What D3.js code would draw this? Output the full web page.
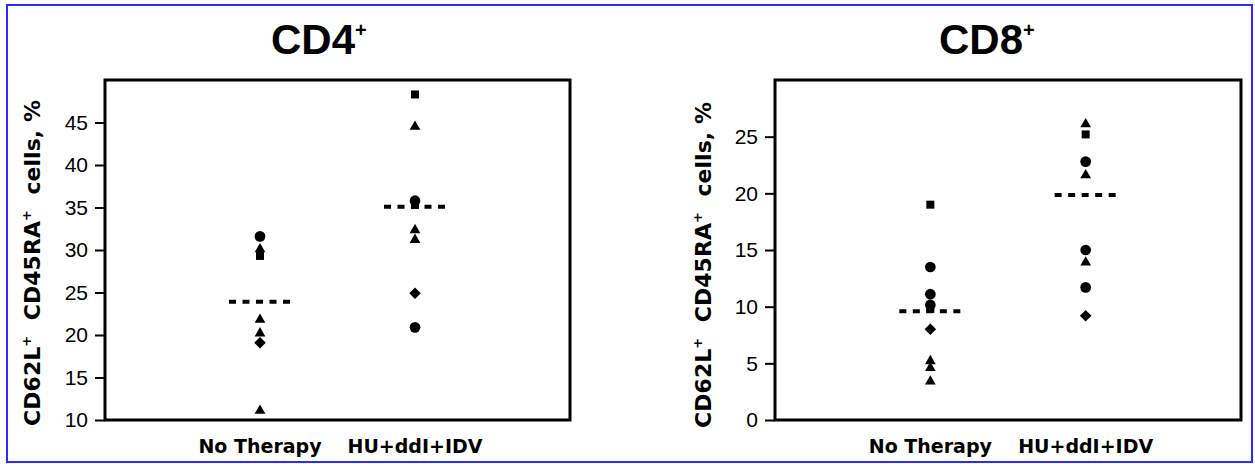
<!DOCTYPE html>
<html>
<head>
<meta charset="utf-8">
<script src="https://cdn.jsdelivr.net/npm/d3@7"></script>
<style>
  body { margin: 0; background: #fff; }
  svg { display: block; }
</style>
</head>
<body>
<svg id="chart" width="1255" height="464"></svg>
<script>
// categories
const groups = ["No Therapy", "HU+ddI+IDV"];

// CD4+ panel values (%), with the marker shape of each patient
const cd4NoTherapy = [31.6, 30.1, 29.3, 21.8, 20.2, 19.1, 11.1];
const cd4NoTherapyShapes = ["circle", "triangle", "square", "triangle", "triangle", "diamond", "triangle"];
const cd4Treated = [48.3, 44.5, 35.8, 35.3, 32.35, 31.2, 24.9, 20.9];
const cd4TreatedShapes = ["square", "triangle", "circle", "square", "triangle", "triangle", "diamond", "circle"];
const cd4Medians = [23.9, 35.1];
const cd4Ticks = [10, 15, 20, 25, 30, 35, 40, 45];

// CD8+ panel values (%)
const cd8NoTherapy = [19.0, 13.5, 11.1, 10.15, 9.8, 8.0, 5.2, 4.6, 3.4];
const cd8NoTherapyShapes = ["square", "circle", "circle", "circle", "square", "diamond", "triangle", "triangle", "triangle"];
const cd8Treated = [26.1, 25.2, 22.8, 21.6, 15.0, 13.9, 11.7, 9.2];
const cd8TreatedShapes = ["triangle", "square", "circle", "triangle", "circle", "triangle", "circle", "diamond"];
const cd8Medians = [9.6, 19.85];
const cd8Ticks = [0, 5, 10, 15, 20, 25];

const svg = d3.select("#chart");

// blue frame round the whole figure
svg.append("rect")
  .attr("x", 7).attr("y", 5)
  .attr("width", 1245).attr("height", 457)
  .attr("fill", "none")
  .attr("stroke", "#2b2bff")
  .attr("stroke-width", 2);

const symbols = {
  circle: d3.symbol().type(d3.symbolCircle).size(90),
  square: d3.symbol().type(d3.symbolSquare).size(64),
  triangle: d3.symbol().type(d3.symbolTriangle).size(50),
  diamond: d3.symbol().type(d3.symbolDiamond2).size(85)
};

function drawPanel(opt) {
  const top = 80, bottom = 420;
  const x = d3.scalePoint().domain(groups).range([opt.left, opt.right]).padding(1);
  const y = d3.scaleLinear().domain(opt.domain).range([bottom, top]);

  // title with superscript +
  const title = svg.append("text")
    .attr("x", opt.titleX)
    .attr("y", 54)
    .attr("font-family", "Liberation Sans, Arial, sans-serif")
    .attr("font-weight", "bold")
    .attr("font-size", 42)
    .text(opt.title);
  title.append("tspan")
    .attr("dy", -17)
    .attr("font-size", 20)
    .text("+");

  // y axis ticks and labels
  const yAxis = svg.append("g")
    .attr("transform", `translate(${opt.left},0)`)
    .call(d3.axisLeft(y).tickValues(opt.ticks).tickSize(10).tickPadding(7));
  yAxis.select(".domain").remove();
  yAxis.selectAll(".tick line").attr("stroke", "#000").attr("stroke-width", 2);
  yAxis.selectAll(".tick text")
    .attr("fill", "#000")
    .attr("font-family", "Liberation Sans, Arial, sans-serif")
    .attr("font-size", 21);

  // plot frame
  svg.append("rect")
    .attr("x", opt.left).attr("y", top)
    .attr("width", opt.right - opt.left).attr("height", bottom - top)
    .attr("fill", "none")
    .attr("stroke", "#000")
    .attr("stroke-width", 3);

  // y axis title
  const yt = svg.append("text")
    .attr("transform", `translate(${opt.labelX},${opt.labelY}) rotate(-90)`)
    .attr("text-anchor", "middle")
    .attr("font-family", "DejaVu Sans, sans-serif")
    .attr("font-weight", "bold")
    .attr("font-size", 22)
    .attr("textLength", 326)
    .attr("lengthAdjust", "spacing")
    .style("white-space", "pre");
  yt.append("tspan").text("CD62L");
  yt.append("tspan").attr("dy", -9).attr("font-size", 13).text("+");
  yt.append("tspan").attr("dy", 9).text("  CD45RA");
  yt.append("tspan").attr("dy", -9).attr("font-size", 13).text("+");
  yt.append("tspan").attr("dy", 9).text("  cells, %");

  // x category labels
  svg.append("g").selectAll("text")
    .data(groups)
    .join("text")
    .attr("x", d => x(d))
    .attr("y", 453)
    .attr("text-anchor", "middle")
    .attr("font-family", "DejaVu Sans, sans-serif")
    .attr("font-weight", "bold")
    .attr("font-size", 19)
    .text(d => d);

  // median lines
  svg.append("g").selectAll("line")
    .data(opt.medians)
    .join("line")
    .attr("x1", (d, i) => x(groups[i]) - 31)
    .attr("x2", (d, i) => x(groups[i]) + 31)
    .attr("y1", d => y(d))
    .attr("y2", d => y(d))
    .attr("stroke", "#000")
    .attr("stroke-width", 4)
    .attr("stroke-dasharray", "7,6.5");

  // patient markers
  opt.series.forEach((s, i) => {
    svg.append("g").selectAll("path")
      .data(s.values.map((v, j) => ({ v, shape: s.shapes[j] })))
      .join("path")
      .attr("transform", d => `translate(${x(groups[i])},${y(d.v)})`)
      .attr("d", d => symbols[d.shape]())
      .attr("fill", "#000");
  });
}

drawPanel({
  title: "CD4", titleX: 271,
  left: 105, right: 570,
  domain: [10, 50], ticks: cd4Ticks,
  labelX: 40, labelY: 263,
  medians: cd4Medians,
  series: [
    { values: cd4NoTherapy, shapes: cd4NoTherapyShapes },
    { values: cd4Treated, shapes: cd4TreatedShapes }
  ]
});

drawPanel({
  title: "CD8", titleX: 939,
  left: 775, right: 1241,
  domain: [0, 30], ticks: cd8Ticks,
  labelX: 711, labelY: 265,
  medians: cd8Medians,
  series: [
    { values: cd8NoTherapy, shapes: cd8NoTherapyShapes },
    { values: cd8Treated, shapes: cd8TreatedShapes }
  ]
});
</script>
</body>
</html>
